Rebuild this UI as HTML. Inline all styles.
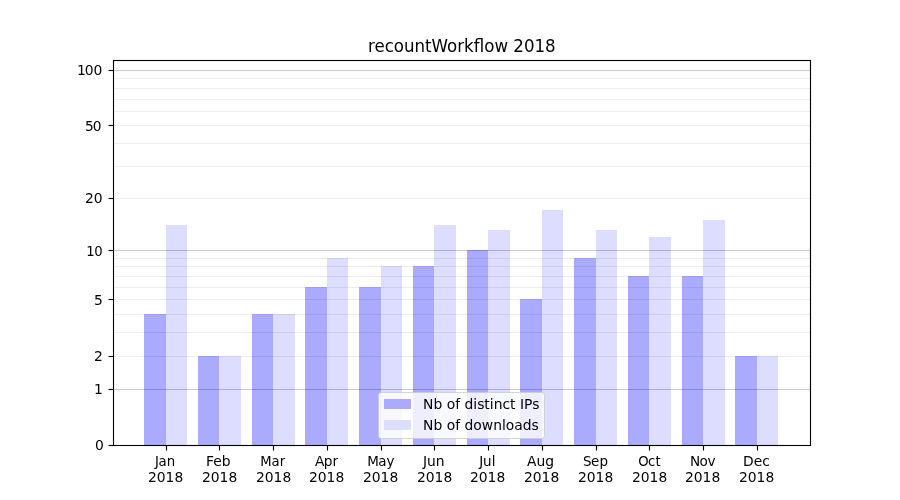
<!DOCTYPE html><html><head><meta charset="utf-8"><title>recountWorkflow 2018</title><style>html,body{margin:0;padding:0;background:#fff;}svg{display:block;will-change:transform;}text{font-family:"DejaVu Sans","Liberation Sans",sans-serif;fill:#000;}</style></head><body>
<svg width="900" height="500" viewBox="0 0 900 500">
<rect x="0" y="0" width="900" height="500" fill="#fff"/>
<g shape-rendering="crispEdges">
<rect x="144" y="314" width="22" height="131" fill="#aaaaff"/>
<rect x="166" y="225" width="21" height="220" fill="#ddddff"/>
<rect x="198" y="356" width="21" height="89" fill="#aaaaff"/>
<rect x="219" y="356" width="22" height="89" fill="#ddddff"/>
<rect x="252" y="314" width="21" height="131" fill="#aaaaff"/>
<rect x="273" y="314" width="22" height="131" fill="#ddddff"/>
<rect x="305" y="287" width="22" height="158" fill="#aaaaff"/>
<rect x="327" y="258" width="21" height="187" fill="#ddddff"/>
<rect x="359" y="287" width="22" height="158" fill="#aaaaff"/>
<rect x="381" y="266" width="21" height="179" fill="#ddddff"/>
<rect x="413" y="266" width="21" height="179" fill="#aaaaff"/>
<rect x="434" y="225" width="22" height="220" fill="#ddddff"/>
<rect x="467" y="250" width="21" height="195" fill="#aaaaff"/>
<rect x="488" y="230" width="22" height="215" fill="#ddddff"/>
<rect x="520" y="299" width="22" height="146" fill="#aaaaff"/>
<rect x="542" y="210" width="21" height="235" fill="#ddddff"/>
<rect x="574" y="258" width="22" height="187" fill="#aaaaff"/>
<rect x="596" y="230" width="21" height="215" fill="#ddddff"/>
<rect x="628" y="276" width="21" height="169" fill="#aaaaff"/>
<rect x="649" y="237" width="22" height="208" fill="#ddddff"/>
<rect x="682" y="276" width="21" height="169" fill="#aaaaff"/>
<rect x="703" y="220" width="22" height="225" fill="#ddddff"/>
<rect x="735" y="356" width="22" height="89" fill="#aaaaff"/>
<rect x="757" y="356" width="21" height="89" fill="#ddddff"/>
</g>
<g shape-rendering="crispEdges">
<rect x="114" y="356" width="696" height="1" fill="#000" fill-opacity="0.065"/>
<rect x="114" y="355" width="696" height="1" fill="#000" fill-opacity="0.0036"/>
<rect x="114" y="357" width="696" height="1" fill="#000" fill-opacity="0.0036"/>
<rect x="114" y="332" width="696" height="1" fill="#000" fill-opacity="0.065"/>
<rect x="114" y="331" width="696" height="1" fill="#000" fill-opacity="0.0036"/>
<rect x="114" y="333" width="696" height="1" fill="#000" fill-opacity="0.0036"/>
<rect x="114" y="314" width="696" height="1" fill="#000" fill-opacity="0.065"/>
<rect x="114" y="313" width="696" height="1" fill="#000" fill-opacity="0.0036"/>
<rect x="114" y="315" width="696" height="1" fill="#000" fill-opacity="0.0036"/>
<rect x="114" y="299" width="696" height="1" fill="#000" fill-opacity="0.065"/>
<rect x="114" y="298" width="696" height="1" fill="#000" fill-opacity="0.0036"/>
<rect x="114" y="300" width="696" height="1" fill="#000" fill-opacity="0.0036"/>
<rect x="114" y="287" width="696" height="1" fill="#000" fill-opacity="0.065"/>
<rect x="114" y="286" width="696" height="1" fill="#000" fill-opacity="0.0036"/>
<rect x="114" y="288" width="696" height="1" fill="#000" fill-opacity="0.0036"/>
<rect x="114" y="276" width="696" height="1" fill="#000" fill-opacity="0.065"/>
<rect x="114" y="275" width="696" height="1" fill="#000" fill-opacity="0.0036"/>
<rect x="114" y="277" width="696" height="1" fill="#000" fill-opacity="0.0036"/>
<rect x="114" y="266" width="696" height="1" fill="#000" fill-opacity="0.065"/>
<rect x="114" y="265" width="696" height="1" fill="#000" fill-opacity="0.0036"/>
<rect x="114" y="267" width="696" height="1" fill="#000" fill-opacity="0.0036"/>
<rect x="114" y="258" width="696" height="1" fill="#000" fill-opacity="0.065"/>
<rect x="114" y="257" width="696" height="1" fill="#000" fill-opacity="0.0036"/>
<rect x="114" y="259" width="696" height="1" fill="#000" fill-opacity="0.0036"/>
<rect x="114" y="198" width="696" height="1" fill="#000" fill-opacity="0.065"/>
<rect x="114" y="197" width="696" height="1" fill="#000" fill-opacity="0.0036"/>
<rect x="114" y="199" width="696" height="1" fill="#000" fill-opacity="0.0036"/>
<rect x="114" y="166" width="696" height="1" fill="#000" fill-opacity="0.065"/>
<rect x="114" y="165" width="696" height="1" fill="#000" fill-opacity="0.0036"/>
<rect x="114" y="167" width="696" height="1" fill="#000" fill-opacity="0.0036"/>
<rect x="114" y="143" width="696" height="1" fill="#000" fill-opacity="0.065"/>
<rect x="114" y="142" width="696" height="1" fill="#000" fill-opacity="0.0036"/>
<rect x="114" y="144" width="696" height="1" fill="#000" fill-opacity="0.0036"/>
<rect x="114" y="125" width="696" height="1" fill="#000" fill-opacity="0.065"/>
<rect x="114" y="124" width="696" height="1" fill="#000" fill-opacity="0.0036"/>
<rect x="114" y="126" width="696" height="1" fill="#000" fill-opacity="0.0036"/>
<rect x="114" y="111" width="696" height="1" fill="#000" fill-opacity="0.065"/>
<rect x="114" y="110" width="696" height="1" fill="#000" fill-opacity="0.0036"/>
<rect x="114" y="112" width="696" height="1" fill="#000" fill-opacity="0.0036"/>
<rect x="114" y="99" width="696" height="1" fill="#000" fill-opacity="0.065"/>
<rect x="114" y="98" width="696" height="1" fill="#000" fill-opacity="0.0036"/>
<rect x="114" y="100" width="696" height="1" fill="#000" fill-opacity="0.0036"/>
<rect x="114" y="88" width="696" height="1" fill="#000" fill-opacity="0.065"/>
<rect x="114" y="87" width="696" height="1" fill="#000" fill-opacity="0.0036"/>
<rect x="114" y="89" width="696" height="1" fill="#000" fill-opacity="0.0036"/>
<rect x="114" y="78" width="696" height="1" fill="#000" fill-opacity="0.065"/>
<rect x="114" y="77" width="696" height="1" fill="#000" fill-opacity="0.0036"/>
<rect x="114" y="79" width="696" height="1" fill="#000" fill-opacity="0.0036"/>
<rect x="114" y="389" width="696" height="1" fill="#000" fill-opacity="0.2"/>
<rect x="114" y="388" width="696" height="1" fill="#000" fill-opacity="0.011"/>
<rect x="114" y="390" width="696" height="1" fill="#000" fill-opacity="0.011"/>
<rect x="114" y="250" width="696" height="1" fill="#000" fill-opacity="0.2"/>
<rect x="114" y="249" width="696" height="1" fill="#000" fill-opacity="0.011"/>
<rect x="114" y="251" width="696" height="1" fill="#000" fill-opacity="0.011"/>
<rect x="114" y="70" width="696" height="1" fill="#000" fill-opacity="0.2"/>
<rect x="114" y="69" width="696" height="1" fill="#000" fill-opacity="0.011"/>
<rect x="114" y="71" width="696" height="1" fill="#000" fill-opacity="0.011"/>
</g>
<g shape-rendering="crispEdges" fill="#000">
<rect x="113" y="59" width="698" height="1" fill-opacity="0.055"/>
<rect x="114" y="61" width="696" height="1" fill-opacity="0.055"/>
<rect x="114" y="444" width="696" height="1" fill-opacity="0.055"/>
<rect x="113" y="446" width="698" height="1" fill-opacity="0.055"/>
<rect x="112" y="59" width="1" height="388" fill-opacity="0.055"/>
<rect x="114" y="61" width="1" height="383" fill-opacity="0.055"/>
<rect x="809" y="61" width="1" height="383" fill-opacity="0.055"/>
<rect x="811" y="59" width="1" height="388" fill-opacity="0.055"/>
<rect x="109" y="444" width="4" height="1" fill-opacity="0.055"/>
<rect x="109" y="446" width="4" height="1" fill-opacity="0.055"/>
<rect x="109" y="445" width="4" height="1"/>
<rect x="108" y="445" width="1" height="1" fill-opacity="0.5"/>
<rect x="109" y="388" width="4" height="1" fill-opacity="0.055"/>
<rect x="109" y="390" width="4" height="1" fill-opacity="0.055"/>
<rect x="109" y="389" width="4" height="1"/>
<rect x="108" y="389" width="1" height="1" fill-opacity="0.5"/>
<rect x="109" y="355" width="4" height="1" fill-opacity="0.055"/>
<rect x="109" y="357" width="4" height="1" fill-opacity="0.055"/>
<rect x="109" y="356" width="4" height="1"/>
<rect x="108" y="356" width="1" height="1" fill-opacity="0.5"/>
<rect x="109" y="298" width="4" height="1" fill-opacity="0.055"/>
<rect x="109" y="300" width="4" height="1" fill-opacity="0.055"/>
<rect x="109" y="299" width="4" height="1"/>
<rect x="108" y="299" width="1" height="1" fill-opacity="0.5"/>
<rect x="109" y="249" width="4" height="1" fill-opacity="0.055"/>
<rect x="109" y="251" width="4" height="1" fill-opacity="0.055"/>
<rect x="109" y="250" width="4" height="1"/>
<rect x="108" y="250" width="1" height="1" fill-opacity="0.5"/>
<rect x="109" y="197" width="4" height="1" fill-opacity="0.055"/>
<rect x="109" y="199" width="4" height="1" fill-opacity="0.055"/>
<rect x="109" y="198" width="4" height="1"/>
<rect x="108" y="198" width="1" height="1" fill-opacity="0.5"/>
<rect x="109" y="124" width="4" height="1" fill-opacity="0.055"/>
<rect x="109" y="126" width="4" height="1" fill-opacity="0.055"/>
<rect x="109" y="125" width="4" height="1"/>
<rect x="108" y="125" width="1" height="1" fill-opacity="0.5"/>
<rect x="109" y="69" width="4" height="1" fill-opacity="0.055"/>
<rect x="109" y="71" width="4" height="1" fill-opacity="0.055"/>
<rect x="109" y="70" width="4" height="1"/>
<rect x="108" y="70" width="1" height="1" fill-opacity="0.5"/>
<rect x="165" y="446" width="1" height="4" fill-opacity="0.055"/>
<rect x="167" y="446" width="1" height="4" fill-opacity="0.055"/>
<rect x="166" y="446" width="1" height="4"/>
<rect x="166" y="450" width="1" height="1" fill-opacity="0.5"/>
<rect x="218" y="446" width="1" height="4" fill-opacity="0.055"/>
<rect x="220" y="446" width="1" height="4" fill-opacity="0.055"/>
<rect x="219" y="446" width="1" height="4"/>
<rect x="219" y="450" width="1" height="1" fill-opacity="0.5"/>
<rect x="272" y="446" width="1" height="4" fill-opacity="0.055"/>
<rect x="274" y="446" width="1" height="4" fill-opacity="0.055"/>
<rect x="273" y="446" width="1" height="4"/>
<rect x="273" y="450" width="1" height="1" fill-opacity="0.5"/>
<rect x="326" y="446" width="1" height="4" fill-opacity="0.055"/>
<rect x="328" y="446" width="1" height="4" fill-opacity="0.055"/>
<rect x="327" y="446" width="1" height="4"/>
<rect x="327" y="450" width="1" height="1" fill-opacity="0.5"/>
<rect x="380" y="446" width="1" height="4" fill-opacity="0.055"/>
<rect x="382" y="446" width="1" height="4" fill-opacity="0.055"/>
<rect x="381" y="446" width="1" height="4"/>
<rect x="381" y="450" width="1" height="1" fill-opacity="0.5"/>
<rect x="433" y="446" width="1" height="4" fill-opacity="0.055"/>
<rect x="435" y="446" width="1" height="4" fill-opacity="0.055"/>
<rect x="434" y="446" width="1" height="4"/>
<rect x="434" y="450" width="1" height="1" fill-opacity="0.5"/>
<rect x="487" y="446" width="1" height="4" fill-opacity="0.055"/>
<rect x="489" y="446" width="1" height="4" fill-opacity="0.055"/>
<rect x="488" y="446" width="1" height="4"/>
<rect x="488" y="450" width="1" height="1" fill-opacity="0.5"/>
<rect x="541" y="446" width="1" height="4" fill-opacity="0.055"/>
<rect x="543" y="446" width="1" height="4" fill-opacity="0.055"/>
<rect x="542" y="446" width="1" height="4"/>
<rect x="542" y="450" width="1" height="1" fill-opacity="0.5"/>
<rect x="595" y="446" width="1" height="4" fill-opacity="0.055"/>
<rect x="597" y="446" width="1" height="4" fill-opacity="0.055"/>
<rect x="596" y="446" width="1" height="4"/>
<rect x="596" y="450" width="1" height="1" fill-opacity="0.5"/>
<rect x="648" y="446" width="1" height="4" fill-opacity="0.055"/>
<rect x="650" y="446" width="1" height="4" fill-opacity="0.055"/>
<rect x="649" y="446" width="1" height="4"/>
<rect x="649" y="450" width="1" height="1" fill-opacity="0.5"/>
<rect x="702" y="446" width="1" height="4" fill-opacity="0.055"/>
<rect x="704" y="446" width="1" height="4" fill-opacity="0.055"/>
<rect x="703" y="446" width="1" height="4"/>
<rect x="703" y="450" width="1" height="1" fill-opacity="0.5"/>
<rect x="756" y="446" width="1" height="4" fill-opacity="0.055"/>
<rect x="758" y="446" width="1" height="4" fill-opacity="0.055"/>
<rect x="757" y="446" width="1" height="4"/>
<rect x="757" y="450" width="1" height="1" fill-opacity="0.5"/>
<rect x="113" y="60" width="698" height="1"/>
<rect x="113" y="445" width="698" height="1"/>
<rect x="113" y="60" width="1" height="386"/>
<rect x="810" y="60" width="1" height="386"/>
</g>
<text transform="translate(102.45 75.44) scale(1 0.955)" font-size="13.8889" text-anchor="end" dx="0 -1 0">100</text>
<text transform="translate(101.37 131.07) scale(0.99 1.03)" font-size="13.8889" text-anchor="end" dx="0 -1">50</text>
<text transform="translate(102.70 203.05) scale(1 1.065)" font-size="13.8889" text-anchor="end">20</text>
<text transform="translate(102.72 255.61) scale(0.95 0.985)" font-size="13.8889" text-anchor="end" dx="0 -0.25">10</text>
<text transform="translate(102.74 304.98) scale(1 1.025)" font-size="13.8889" text-anchor="end">5</text>
<text transform="translate(102.91 361.07) scale(1 1.02)" font-size="13.8889" text-anchor="end">2</text>
<text transform="translate(102.72 394.02) scale(1 0.985)" font-size="13.8889" text-anchor="end">1</text>
<text transform="translate(103.89 449.66) scale(1 1.045)" font-size="13.8889" text-anchor="end">0</text>
<text transform="translate(165.10 465.90) scale(0.96 1.005)" font-size="13.8889" text-anchor="middle" dx="0 -0.5 0.25">Jan</text>
<text transform="translate(165.61 482.09) scale(1 1.02)" font-size="13.8889" text-anchor="middle">2018</text>
<text transform="translate(218.28 466.15) scale(1 1.02)" font-size="13.8889" text-anchor="middle">Feb</text>
<text transform="translate(219.62 482.09) scale(1 1.035)" font-size="13.8889" text-anchor="middle">2018</text>
<text transform="translate(272.63 466.12) scale(0.95 1.005)" font-size="13.8889" text-anchor="middle">Mar</text>
<text transform="translate(273.59 482.09) scale(1 1.02)" font-size="13.8889" text-anchor="middle">2018</text>
<text transform="translate(326.59 465.97) scale(0.99 0.985)" font-size="13.8889" text-anchor="middle" dx="0 -0.5 0">Apr</text>
<text transform="translate(326.57 482.09) scale(1 1.02)" font-size="13.8889" text-anchor="middle">2018</text>
<text transform="translate(380.79 466.15) scale(0.97 1.03)" font-size="13.8889" text-anchor="middle" dx="0 -0.5 0">May</text>
<text transform="translate(380.62 482.09) scale(1 1.035)" font-size="13.8889" text-anchor="middle">2018</text>
<text transform="translate(433.73 465.88) scale(1 0.97)" font-size="13.8889" text-anchor="middle">Jun</text>
<text transform="translate(434.55 482.09) scale(1 1.045)" font-size="13.8889" text-anchor="middle">2018</text>
<text transform="translate(487.26 465.80) scale(0.97 0.97)" font-size="13.8889" text-anchor="middle">Jul</text>
<text transform="translate(487.58 482.09) scale(1 1.02)" font-size="13.8889" text-anchor="middle">2018</text>
<text transform="translate(540.44 465.96) scale(1 1.01)" font-size="13.8889" text-anchor="middle">Aug</text>
<text transform="translate(541.57 482.09) scale(1 1.02)" font-size="13.8889" text-anchor="middle">2018</text>
<text transform="translate(595.49 466.09) scale(0.97 0.96)" font-size="13.8889" text-anchor="middle" dx="0 -0.5 0">Sep</text>
<text transform="translate(595.62 482.09) scale(1 1.035)" font-size="13.8889" text-anchor="middle">2018</text>
<text transform="translate(649.41 465.99) scale(0.95 1.05)" font-size="13.8889" text-anchor="middle" dx="0 -0.5 0.25">Oct</text>
<text transform="translate(649.62 482.09) scale(1 1.035)" font-size="13.8889" text-anchor="middle">2018</text>
<text transform="translate(702.72 466.03) scale(0.98 0.96)" font-size="13.8889" text-anchor="middle" dx="0 -0.5 -0.5">Nov</text>
<text transform="translate(702.59 482.09) scale(1 1.02)" font-size="13.8889" text-anchor="middle">2018</text>
<text transform="translate(756.37 466.07) scale(1 1.05)" font-size="13.8889" text-anchor="middle">Dec</text>
<text transform="translate(756.59 482.09) scale(1 1.02)" font-size="13.8889" text-anchor="middle">2018</text>
<text transform="translate(461.81 52.00) scale(1 1.08)" font-size="16.6667" text-anchor="middle">recountWorkflow 2018</text>
<rect x="378.5" y="392.5" width="166.0" height="46.0" rx="2.8" ry="2.8" fill="#fff" fill-opacity="0.8" stroke="#ccc" stroke-opacity="0.8" stroke-width="1"/>
<g shape-rendering="crispEdges">
<rect x="384" y="399" width="27" height="10" fill="#aaaaff"/>
<rect x="384" y="420" width="27" height="10" fill="#ddddff"/>
</g>
<text transform="translate(423.08 409.03) scale(1 1.075)" font-size="13.8889">Nb of distinct IPs</text>
<text transform="translate(423.08 430.00) scale(1 1.035)" font-size="13.8889">Nb of downloads</text>
</svg></body></html>
